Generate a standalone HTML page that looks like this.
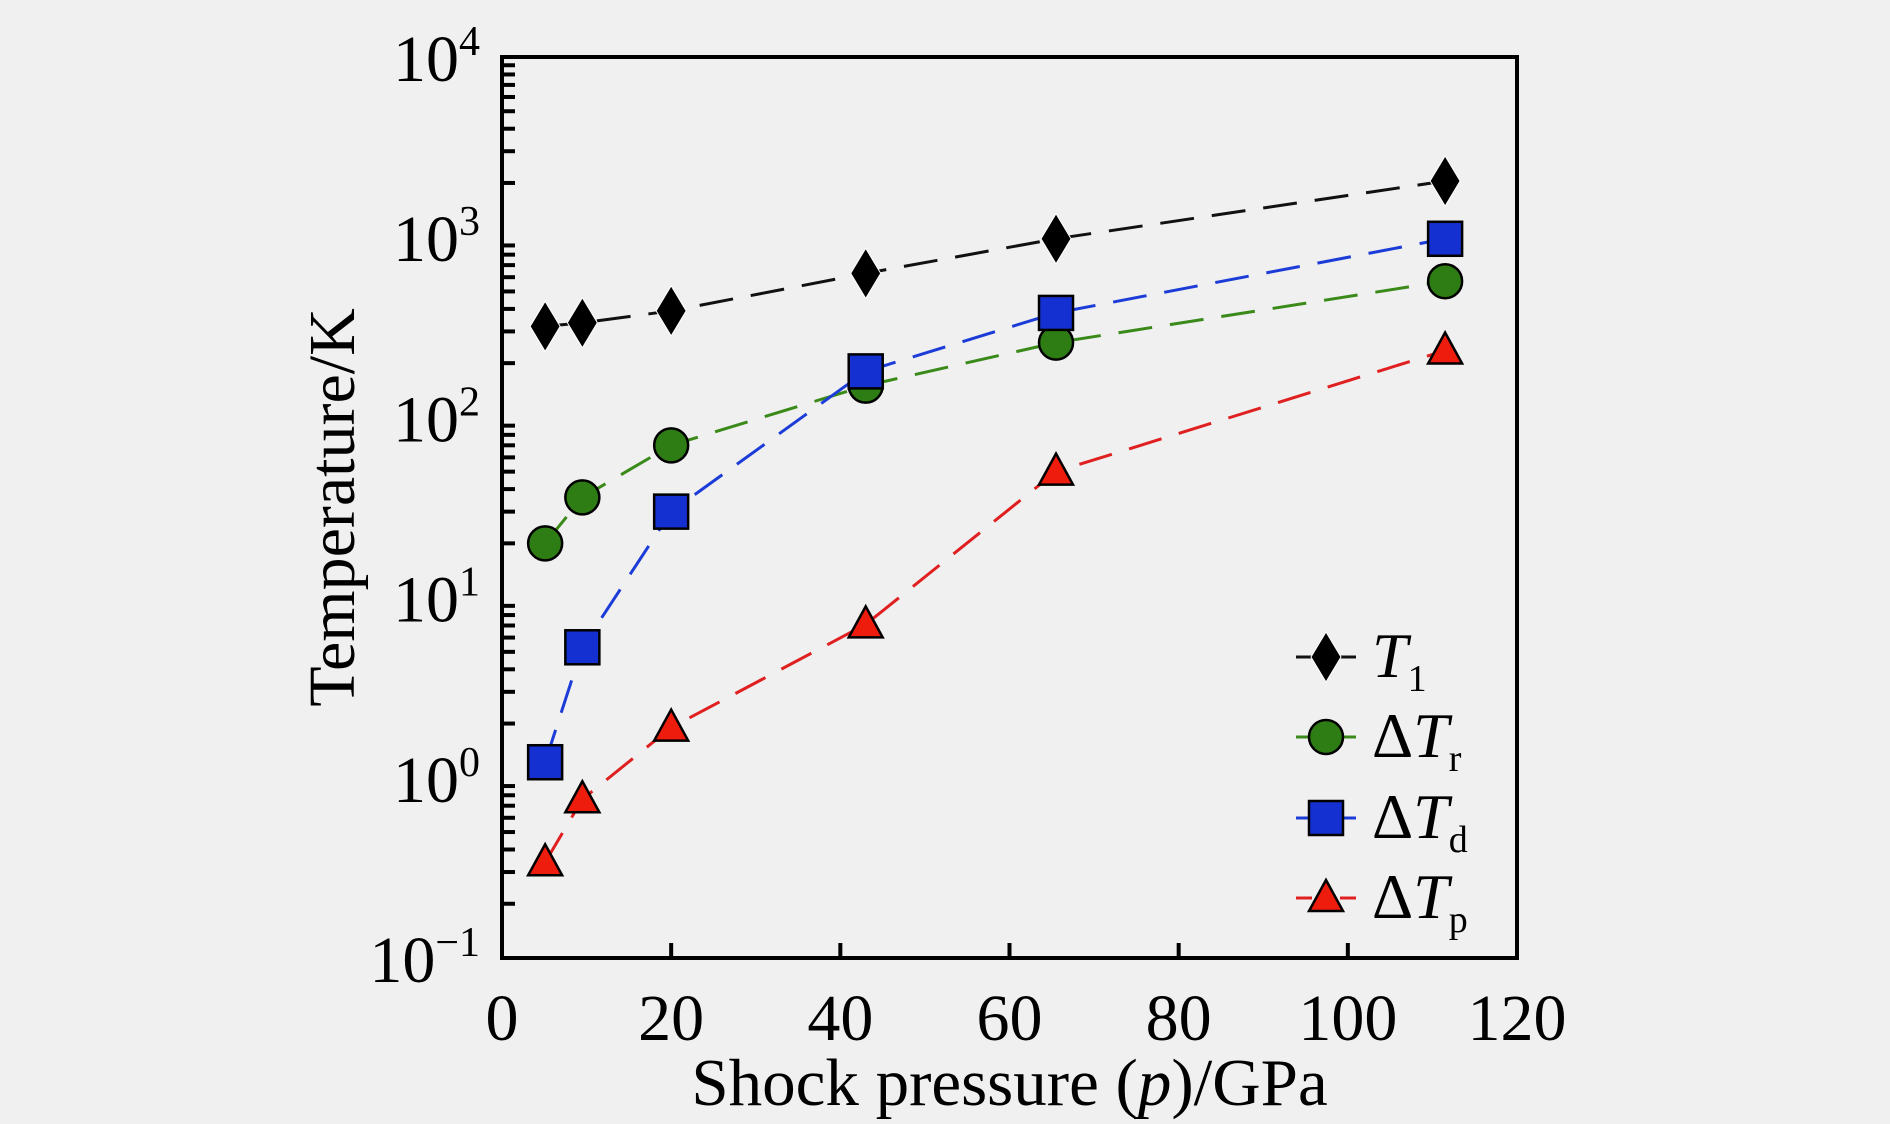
<!DOCTYPE html>
<html><head><meta charset="utf-8"><style>
body{margin:0;background:#f0f0f0;}
svg{display:block;font-family:"Liberation Serif",serif;}
</style></head><body>
<svg id="chart" width="1890" height="1124" viewBox="0 0 1890 1124">
<rect width="1890" height="1124" fill="#f0f0f0"/>
<g id="g"></g>
</svg>
<script>
const pressures=[5.1,9.5,20,43,65.5,111.5];
const t1Vals=[320,335,390,630,980,2050];
const trVals=[20,36,70,150,260,570];
const tdVals=[1.22,5.3,30,180,380,980];
const tpVals=[0.34,0.76,1.9,7.1,50,235];
const xTicks=[0,20,40,60,80,100,120];
const yExps=[-1,0,1,2,3,4];
const L=502,R=1517,T=57,B=958;
const xs=v=>L+(v-0)/120*(R-L);
const ys=v=>B-(Math.log10(v)+1)/5*(B-T);
const g=document.getElementById('g');
const NS='http://www.w3.org/2000/svg';
function mk(tag,attrs,parent){const e=document.createElementNS(NS,tag);for(const k in attrs)e.setAttribute(k,attrs[k]);(parent||g).appendChild(e);return e;}
xTicks.forEach(v=>{if(v>0&&v<120){const t=mk('line',{x1:xs(v),x2:xs(v),y1:B,y2:B-15,stroke:'#000','stroke-width':4});

}
const l=mk('text',{x:xs(v),y:B+82,'font-size':66,'text-anchor':'middle'});l.textContent=v;

});
yExps.forEach(e=>{const y=ys(Math.pow(10,e));
const l=mk('text',{x:L-22,y:y+24,'font-size':66,'text-anchor':'end'});


const a=mk('tspan',{},l);a.textContent='10';const s=mk('tspan',{dy:-26,'font-size':42},l);s.textContent=e<0?'\u2212'+(-e):e;
if(e<4){for(let m=2;m<=9;m++){const t=mk('line',{x1:L,x2:L+13,y1:ys(m*Math.pow(10,e)),y2:ys(m*Math.pow(10,e)),stroke:'#000','stroke-width':4});

}}});
const fr=mk('rect',{x:L,y:T,width:R-L,height:B-T,fill:'none',stroke:'#000','stroke-width':4});


const xt=mk('text',{x:(L+R)/2,y:1105,'font-size':67,'text-anchor':'middle'});


xt.innerHTML='Shock pressure (<tspan font-style="italic">p</tspan>)/GPa';
const yt=mk('text',{x:0,y:0,'font-size':66,'text-anchor':'middle',transform:`translate(354,${(T+B)/2}) rotate(-90)`});


yt.textContent='Temperature/K';
function marker(type,cx,cy,fill,name){let e;
if(type==='d')e=mk('polygon',{points:`${cx},${cy-25} ${cx+15},${cy} ${cx},${cy+25} ${cx-15},${cy}`,fill:fill,stroke:'#fff','stroke-width':1});
else if(type==='c')e=mk('circle',{cx:cx,cy:cy,r:17,fill:fill,stroke:'#000','stroke-width':2.5});
else if(type==='s')e=mk('rect',{x:cx-17,y:cy-17,width:34,height:34,fill:fill,stroke:'#000','stroke-width':2.5});
else e=mk('polygon',{points:`${cx},${cy-18} ${cx+17},${cy+13} ${cx-17},${cy+13}`,fill:fill,stroke:'#000','stroke-width':2.5});

}
const series=[
{v:t1Vals,c:'#111',m:'d',f:'#000',n:'t1'},
{v:trVals,c:'#3a8a1a',m:'c',f:'#2e7d14',n:'delta-tr'},
{v:tdVals,c:'#1c3cd8',m:'s',f:'#1530d0',n:'delta-td'},
{v:tpVals,c:'#e02020',m:'t',f:'#ee1c0c',n:'delta-tp'}];
series.forEach(s=>{const p=mk('polyline',{points:pressures.map((x,i)=>xs(x)+','+ys(s.v[i])).join(' '),fill:'none',stroke:s.c,'stroke-width':3,'stroke-dasharray':'34,18'});

});
series.forEach(s=>{pressures.forEach((x,i)=>marker(s.m,xs(x),ys(s.v[i]),s.f,s.n+'-point'));});
const labels=[['T','1',false],['T','r',true],['T','d',true],['T','p',true]];
const rows=[657,737,818,898];
series.forEach((s,i)=>{const y=rows[i];
const ln=mk('line',{x1:1296,x2:1356,y1:y,y2:y,stroke:s.c,'stroke-width':3,'stroke-dasharray':'16,6'});


marker(s.m,1326,y,s.f,'legend-marker');
const t=mk('text',{x:1372,y:y+20,'font-size':64});


t.innerHTML=(labels[i][2]?'\u0394':'')+'<tspan font-style="italic">T</tspan><tspan font-size="38" dy="14">'+labels[i][1]+'</tspan>';});
</script>
</body></html>
